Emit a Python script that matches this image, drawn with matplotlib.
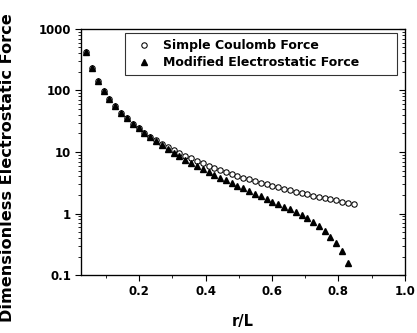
import numpy as np
import matplotlib
matplotlib.use("Agg")
import matplotlib.pyplot as plt
from matplotlib.ticker import LogLocator, MultipleLocator, NullFormatter, FixedLocator

plt.rcParams['font.family'] = ['DejaVu Sans']
plt.rcParams['font.weight'] = 'bold'

# separation r/L, shared by both curves
r_over_l = [0.041, 0.059, 0.076, 0.094, 0.111, 0.129, 0.146, 0.164, 0.181, 0.199,
            0.216, 0.234, 0.251, 0.269, 0.286, 0.304, 0.321, 0.339, 0.356, 0.374,
            0.391, 0.409, 0.426, 0.444, 0.461, 0.479, 0.496, 0.514, 0.531, 0.549,
            0.566, 0.584, 0.601, 0.619, 0.636, 0.654, 0.671, 0.689, 0.706, 0.724,
            0.741, 0.759, 0.776, 0.794, 0.811, 0.829, 0.846]

coulomb = [415, 228, 144, 99.3, 72.5, 55.2, 43.5, 35.1, 29.0, 24.3,
           20.7, 17.8, 15.5, 13.6, 12.0, 10.7, 9.62, 8.67, 7.86, 7.16,
           6.55, 6.01, 5.54, 5.12, 4.74, 4.41, 4.11, 3.84, 3.59, 3.37,
           3.17, 2.99, 2.82, 2.66, 2.52, 2.39, 2.27, 2.15, 2.05, 1.95,
           1.86, 1.78, 1.70, 1.63, 1.56, 1.49, 1.43]

modified = [415, 228, 144, 99.3, 72.5, 55.2, 43.5, 35.1, 29.0, 24.3,
            20.5, 17.4, 14.9, 12.8, 11.0, 9.63, 8.51, 7.54, 6.68, 5.94,
            5.31, 4.75, 4.27, 3.84, 3.46, 3.13, 2.84, 2.57, 2.33, 2.11,
            1.90, 1.72, 1.55, 1.41, 1.29, 1.17, 1.06, 0.946, 0.84, 0.741,
            0.623, 0.516, 0.417, 0.326, 0.242, 0.156]

x_ticks = [0.2, 0.4, 0.6, 0.8, 1.0]
y_ticks = [0.1, 1, 10, 100, 1000]
y_tick_labels = ['0.1', '1', '10', '100', '1000']

fig = plt.figure(figsize=(4.17, 3.33), dpi=100)
ax = fig.add_axes([0.194, 0.174, 0.777, 0.739])

ax.plot(r_over_l, coulomb, 'o', ms=3.9, mfc='white', mec='black', mew=0.75,
        label='Simple Coulomb Force', zorder=2)
ax.plot(r_over_l[:len(modified)], modified, '^', ms=4.6, color='black',
        label='Modified Electrostatic Force', zorder=3)

ax.set_yscale('log')
ax.set_xlim(0.025, 1.0)
ax.set_ylim(0.1, 1000)

ax.xaxis.set_major_locator(FixedLocator(x_ticks))
ax.xaxis.set_minor_locator(MultipleLocator(0.1))
ax.set_xticklabels(['%.1f' % t for t in x_ticks])
ax.yaxis.set_major_locator(FixedLocator(y_ticks))
ax.set_yticklabels(y_tick_labels)
ax.yaxis.set_minor_locator(LogLocator(base=10, subs=np.arange(2, 10)))
ax.yaxis.set_minor_formatter(NullFormatter())

ax.tick_params(which='major', direction='out', length=4, width=0.8,
               labelsize=8.5, pad=3)
ax.tick_params(which='minor', direction='out', length=2, width=0.6)
ax.tick_params(axis='x', which='major', pad=3)
for s in ax.spines.values():
    s.set_linewidth(0.9)

# right-hand axis carries inward ticks only
ax2 = ax.twinx()
ax2.set_yscale('log')
ax2.set_ylim(ax.get_ylim())
ax2.yaxis.set_major_locator(FixedLocator(y_ticks))
ax2.yaxis.set_minor_locator(LogLocator(base=10, subs=np.arange(2, 10)))
ax2.yaxis.set_major_formatter(NullFormatter())
ax2.yaxis.set_minor_formatter(NullFormatter())
ax2.tick_params(which='major', direction='in', length=4, width=0.8)
ax2.tick_params(which='minor', direction='in', length=2, width=0.6)

ax.set_xlabel('r/L', fontsize=10.5, fontweight='bold', labelpad=12)
fig.text(0.019, 0.498, 'Dimensionless Electrostatic Force', rotation=90,
         ha='center', va='center', fontsize=11.6, fontweight='bold')

leg = ax.legend(loc='upper left', bbox_to_anchor=(0.136, 0.0, 0.839, 0.984),
                mode='expand', borderaxespad=0, fontsize=9, frameon=True,
                fancybox=False, edgecolor='black', handletextpad=0.55,
                handlelength=2.0, borderpad=0.5, labelspacing=0.3)
leg.get_frame().set_linewidth(0.8)

fig.savefig('out.png', dpi=100)
